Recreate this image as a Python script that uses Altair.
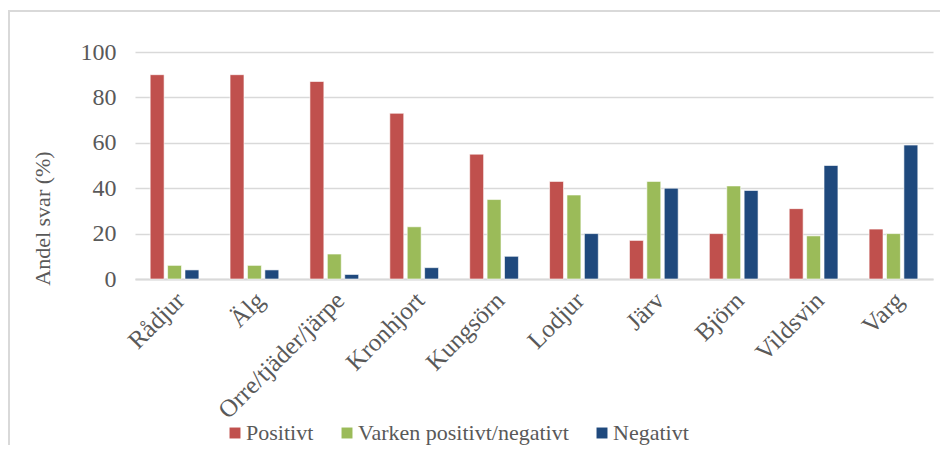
import altair as alt
import pandas as pd

categories = ["Rådjur", "Älg", "Orre/tjäder/järpe", "Kronhjort", "Kungsörn",
              "Lodjur", "Järv", "Björn", "Vildsvin", "Varg"]
series = ["Positivt", "Varken positivt/negativt", "Negativt"]
positivt = [90, 90, 87, 73, 55, 43, 17, 20, 31, 22]
varken = [6, 6, 11, 23, 35, 37, 43, 41, 19, 20]
negativt = [4, 4, 2, 5, 10, 20, 40, 39, 50, 59]
colors = ["#c0504d", "#9bbb59", "#1f497d"]
y_ticks = [0, 20, 40, 60, 80, 100]

rows = []
for s, vals in zip(series, [positivt, varken, negativt]):
    for c, v in zip(categories, vals):
        rows.append({"Art": c, "Svar": s, "Andel": v})
df = pd.DataFrame(rows)

FONT = "Liberation Serif"
GRAY = "#595959"
LINE = "#d9d9d9"

bars = alt.Chart(df).mark_bar(stroke="white", strokeWidth=0.6).encode(
    x=alt.X("Art:N", sort=categories,
            scale=alt.Scale(paddingInner=0.39, paddingOuter=0.19),
            axis=alt.Axis(title=None, labelAngle=-45, labelFontSize=25, labelFont=FONT,
                          labelColor=GRAY, ticks=False, labelPadding=17, labelLimit=400,
                          labelBaseline="middle", labelAlign="right", labelOffset=6,
                          domainColor=LINE, domainWidth=2, grid=False)),
    xOffset=alt.XOffset("Svar:N", sort=series, scale=alt.Scale(paddingInner=0.2)),
    y=alt.Y("Andel:Q", scale=alt.Scale(domain=[0, 100]),
            axis=alt.Axis(values=y_ticks, title="Andel svar (%)", titleFont=FONT,
                          titleFontSize=22, titleFontWeight="normal", titleColor=GRAY,
                          titleX=-93, titleY=166, titleAlign="center", titleBaseline="middle",
                          labelFont=FONT, labelFontSize=24, labelColor=GRAY, labelPadding=19,
                          ticks=False, domain=False, gridColor=LINE, gridWidth=1.3)),
    color=alt.Color("Svar:N", sort=series,
                    scale=alt.Scale(domain=series, range=colors),
                    legend=alt.Legend(title=None, orient="none", legendX=89, legendY=370,
                                      direction="horizontal", symbolType="square",
                                      symbolSize=120, symbolStrokeWidth=0,
                                      labelFont=FONT, labelFontSize=22, labelColor=GRAY,
                                      labelLimit=400, columnPadding=22, labelOffset=0)),
)

frame = pd.DataFrame({"k": [0]})
top_line = alt.Chart(frame).mark_rule(color=LINE, strokeWidth=2).encode(
    x=alt.value(-127), x2=alt.value(805), y=alt.value(-41))
left_line = alt.Chart(frame).mark_rule(color=LINE, strokeWidth=2).encode(
    x=alt.value(-126), y=alt.value(-41), y2=alt.value(393))

chart = alt.layer(top_line, left_line, bars).properties(
    width=798, height=227,
    padding={"left": 127, "top": 44, "right": 7, "bottom": 166},
    autosize="none",
).configure_view(stroke=None)

chart.save("out.html", embed_options={"renderer": "svg", "actions": False})
